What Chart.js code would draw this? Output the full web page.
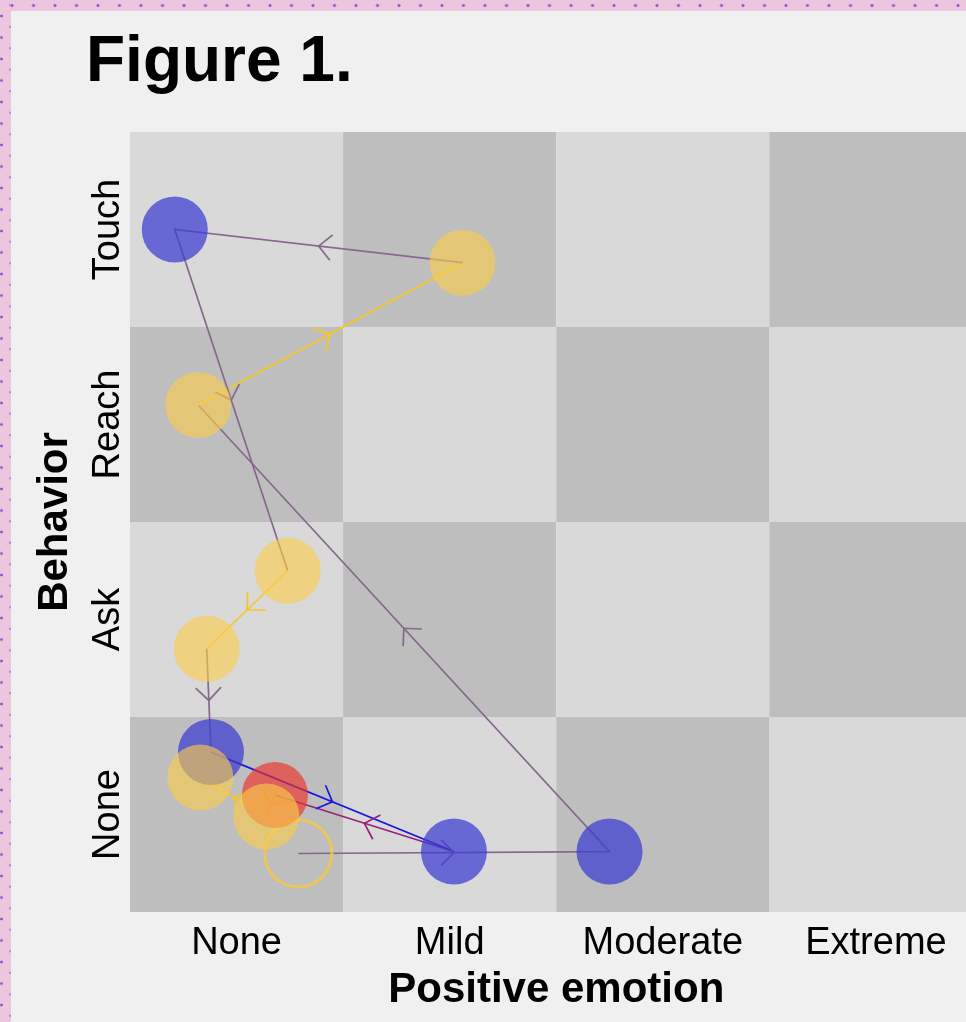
<!DOCTYPE html>
<html>
<head>
<meta charset="utf-8">
<script src="https://cdn.jsdelivr.net/npm/chart.js@4.4.1/dist/chart.umd.min.js"></script>
<style>
html,body{margin:0;padding:0;background:#f0f0f0;overflow:hidden;width:966px;height:1022px;}
#wrap{position:absolute;left:0;top:0;width:1019px;height:1022px;}
#topband{position:absolute;left:0;top:0;width:966px;height:11px;background-color:#edc5df;
  background-image:radial-gradient(circle, #9b5fcf 1.2px, rgba(155,95,207,0) 1.9px);
  background-size:21.5px 11px;background-position:1.25px 0;z-index:3;}
#leftband{position:absolute;left:0;top:0;width:11px;height:1022px;background-color:#edc5df;
  background-image:radial-gradient(circle at 1.5px 10.75px, #9b5fcf 1.1px, rgba(155,95,207,0) 1.8px),
                   radial-gradient(circle at 10px 10.75px, rgba(155,95,207,0.6) 0.9px, rgba(155,95,207,0) 1.6px);
  background-size:11px 21.5px, 11px 21.5px;background-position:0 5.25px, 0 16px;z-index:3;}
#title{position:absolute;left:86px;top:27px;font-family:"Liberation Sans",Arial,sans-serif;font-weight:bold;font-size:64px;line-height:64px;color:#000;white-space:nowrap;z-index:2;}
</style>
</head>
<body>
<div id="wrap"><canvas id="c" width="1019" height="1022"></canvas></div>
<div id="title">Figure 1.</div>
<div id="topband"></div>
<div id="leftband"></div>
<script>
// ---- data ----
const xCategories = ['None', 'Mild', 'Moderate', 'Extreme'];
const yCategories = ['None', 'Ask', 'Reach', 'Touch'];
// visit sequence (category units, jittered inside the cell)
const stepX = [0.29, 1.75, -0.18, 1.06, -0.29, 0.24, -0.14, -0.12, 1.02, 0.18, 0.14, -0.17];
const stepY = [-0.20, -0.19, 2.10, 2.83, 3.00, 1.25, 0.85, 0.32, -0.19, 0.10, -0.01, 0.19];
const stepState = ['yellow', 'blue', 'yellow', 'yellow', 'blue', 'yellow', 'yellow', 'blue', 'blue', 'red', 'yellow', 'yellow'];
const startStep = 0;

// ---- styles ----
const FONT = '"Liberation Sans", Arial, sans-serif';
const nodeFill = {
  blue: 'rgba(60,60,210,0.72)',
  yellow: 'rgba(250,205,75,0.62)',
  red: 'rgba(235,50,40,0.66)'
};
const openStroke = 'rgba(245,200,70,0.85)';
const pairColor = {
  'blue|yellow': '#86688c',
  'yellow|yellow': '#f8c620',
  'blue|blue': '#1818e0',
  'blue|red': '#962478',
  'red|yellow': '#ff8a1a'
};
function lineColor(a, b) {
  const k = [stepState[a], stepState[b]].sort().join('|');
  return pairColor[k] || '#866';
}

const pts = stepX.map((x, i) => ({x: x, y: stepY[i]}));

const boardPlugin = {
  id: 'board',
  beforeDatasetsDraw(chart) {
    const ctx = chart.ctx, xs = chart.scales.x, ys = chart.scales.y;
    ctx.save();
    for (let i = 0; i < xCategories.length; i++) {
      for (let j = 0; j < yCategories.length; j++) {
        const l = xs.getPixelForValue(i - 0.5), r = xs.getPixelForValue(i + 0.5);
        const t = ys.getPixelForValue(j + 0.5), b = ys.getPixelForValue(j - 0.5);
        ctx.fillStyle = (i + j) % 2 === 0 ? '#bebebe' : '#d9d9d9';
        ctx.fillRect(l, t, r - l, b - t);
      }
    }
    ctx.restore();
  },
  afterDatasetDraw(chart, args) {
    if (args.index !== 0) return;
    const ctx = chart.ctx, data = args.meta.data;
    ctx.save();
    ctx.lineWidth = 1.7;
    const L = 18, h = Math.PI / 4;
    for (let i = 0; i < data.length - 1; i++) {
      const a = data[i], b = data[i + 1];
      const mx = (a.x + b.x) / 2, my = (a.y + b.y) / 2;
      const ang = Math.atan2(b.y - a.y, b.x - a.x);
      ctx.strokeStyle = lineColor(i, i + 1);
      ctx.beginPath();
      ctx.moveTo(mx - L * Math.cos(ang - h), my - L * Math.sin(ang - h));
      ctx.lineTo(mx, my);
      ctx.lineTo(mx - L * Math.cos(ang + h), my - L * Math.sin(ang + h));
      ctx.stroke();
    }
    ctx.restore();
  },
  afterDraw(chart) {
    const ctx = chart.ctx, ys = chart.scales.y;
    ctx.save();
    ctx.font = '38px ' + FONT;
    ctx.fillStyle = '#000';
    ctx.textAlign = 'center';
    ctx.textBaseline = 'alphabetic';
    const bx = chart.chartArea.left - 11;
    yCategories.forEach((lab, j) => {
      ctx.save();
      ctx.translate(bx, ys.getPixelForValue(j));
      ctx.rotate(-Math.PI / 2);
      ctx.fillText(lab, 0, 0);
      ctx.restore();
    });
    ctx.restore();
  }
};

new Chart(document.getElementById('c'), {
  type: 'scatter',
  data: {
    datasets: [
      {
        data: pts,
        showLine: true,
        pointRadius: 0,
        borderWidth: 1.7,
        borderColor: '#86688c',
        tension: 0,
        order: 2,
        segment: { borderColor: c => lineColor(c.p0DataIndex, c.p1DataIndex) }
      },
      {
        data: pts,
        showLine: false,
        order: 1,
        pointRadius: pts.map((p, i) => i === startStep ? 33.5 : 33),
        pointBackgroundColor: stepState.map((s, i) => i === startStep ? 'rgba(0,0,0,0)' : nodeFill[s]),
        pointBorderColor: stepState.map((s, i) => i === startStep ? openStroke : 'rgba(0,0,0,0)'),
        pointBorderWidth: stepState.map((s, i) => i === startStep ? 3 : 0)
      }
    ]
  },
  options: {
    responsive: false,
    devicePixelRatio: 1,
    animation: false,
    layout: { padding: { top: 132, right: 18, left: 0, bottom: 0 } },
    plugins: { legend: { display: false }, tooltip: { enabled: false } },
    scales: {
      x: {
        type: 'linear', min: -0.5, max: 3.5, position: 'bottom',
        afterBuildTicks: s => { s.ticks = xCategories.map((_, i) => ({ value: i })); },
        afterFit: s => { s.height = 110; s.paddingLeft = 0; s.paddingRight = 0; },
        grid: { display: false, drawTicks: false },
        border: { display: false },
        ticks: {
          callback: v => xCategories[v],
          font: { family: FONT, size: 38 },
          color: '#000', padding: 9, maxRotation: 0, minRotation: 0, autoSkip: false
        },
        title: {
          display: true, text: 'Positive emotion', color: '#000',
          font: { family: FONT, size: 42, weight: 'bold' },
          padding: { top: 0, bottom: 6 }
        }
      },
      y: {
        type: 'linear', min: -0.5, max: 3.5, position: 'left',
        afterBuildTicks: s => { s.ticks = yCategories.map((_, i) => ({ value: i })); },
        afterFit: s => { s.width = 130; s.paddingTop = 0; s.paddingBottom = 0; },
        grid: { display: false, drawTicks: false },
        border: { display: false },
        ticks: { display: false },
        title: {
          display: true, text: 'Behavior', color: '#000',
          font: { family: FONT, size: 42, weight: 'bold' },
          padding: { top: 30, bottom: 0 }
        }
      }
    }
  },
  plugins: [boardPlugin]
});
</script>
</body>
</html>
